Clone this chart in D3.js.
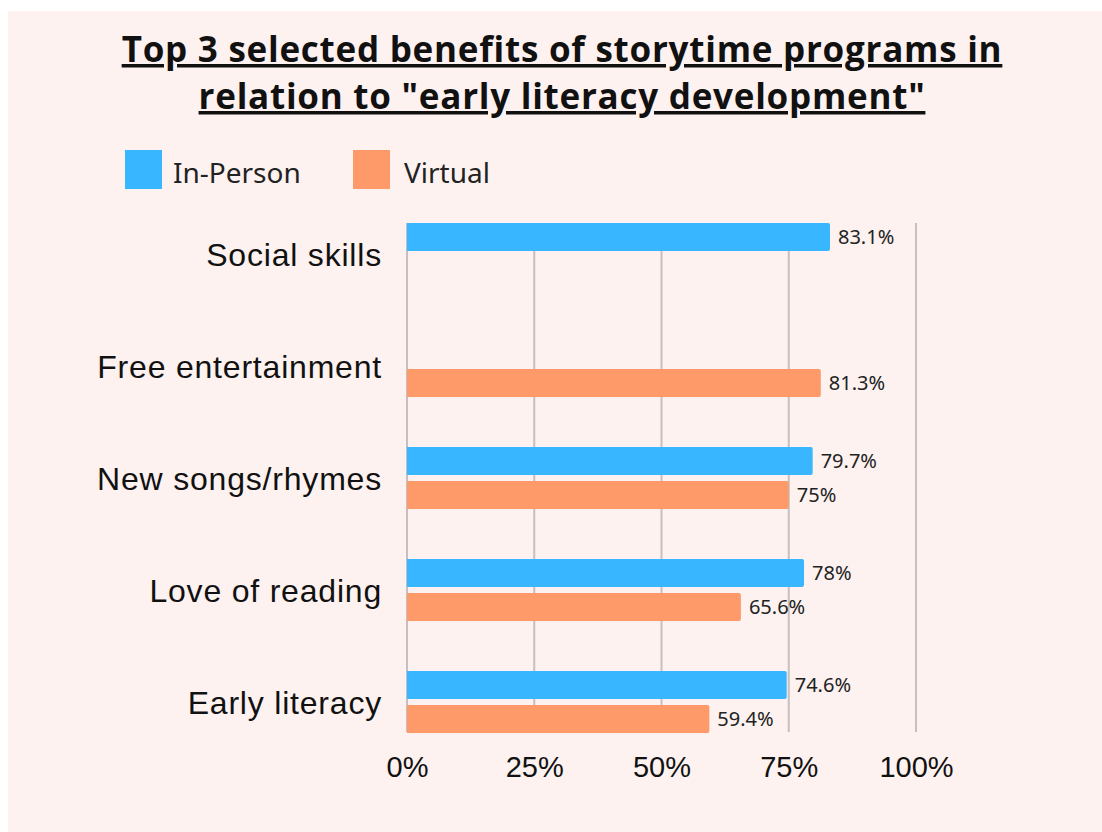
<!DOCTYPE html>
<html>
<head>
<meta charset="utf-8">
<script src="https://cdn.jsdelivr.net/npm/d3@7"></script>
<style>
  body { margin: 0; background: #ffffff; }
  svg { display: block; }
</style>
</head>
<body>
<svg></svg>
<script>
// data
const categories = ['Social skills', 'Free entertainment', 'New songs/rhymes', 'Love of reading', 'Early literacy']
const series = ['In-Person', 'Virtual']
const inPerson = [83.1, null, 79.7, 78, 74.6]
const virtual = [null, 81.3, 75, 65.6, 59.4]
const valueLabels = {
  'In-Person': ['83.1%', null, '79.7%', '78%', '74.6%'],
  'Virtual': [null, '81.3%', '75%', '65.6%', '59.4%']
}
const ticks = [0, 25, 50, 75, 100]
const titleLines = ['Top 3 selected benefits of storytime programs in', 'relation to "early literacy development"']

const WIDTH = 1102
const HEIGHT = 832
const colors = {'In-Person': '#38b6ff', 'Virtual': '#fe9a6a'}

const svg = d3.select('svg')
  .attr('width', WIDTH)
  .attr('height', HEIGHT)

svg.append('rect')
  .attr('x', 8).attr('y', 11)
  .attr('width', WIDTH - 8).attr('height', HEIGHT - 11)
  .attr('fill', '#fdf2f0')

// title
svg.append('g').selectAll('text')
  .data(titleLines)
  .enter().append('text')
    .attr('x', 562)
    .attr('y', (d, i) => 62 + i * 47)
    .attr('text-anchor', 'middle')
    .style('font-family', '"Open Sans", sans-serif')
    .style('font-weight', 700)
    .style('font-size', '35px')
    .style('letter-spacing', '0.75px')
    .style('text-decoration', 'underline')
    .attr('fill', '#111')
    .text(d => d)

// legend
const legendX = [125, 353]
const legend = svg.append('g').selectAll('.legend')
  .data(series)
  .enter().append('g')
    .attr('class', 'legend')
    .attr('transform', (d, i) => `translate(${legendX[i]},150)`)
legend.append('rect')
  .attr('width', 37).attr('height', 39)
  .attr('fill', d => colors[d])
legend.append('text')
  .attr('x', (d, i) => i ? 51 : 48).attr('y', 33)
  .style('font-family', '"Noto Sans", sans-serif')
  .style('font-size', '28px')
  .attr('fill', '#222')
  .text(d => d)

// scales
const x = d3.scaleLinear()
  .domain([0, 100])
  .range([407, 916])
const y0 = d3.scaleBand()
  .domain(categories)
  .range([199, 759])
const y1 = d3.scaleBand()
  .domain(series)
  .range([24, 86])
  .paddingInner(6 / 34)

// grid lines
svg.append('g').selectAll('line')
  .data(ticks)
  .enter().append('line')
    .attr('x1', d => x(d)).attr('x2', d => x(d))
    .attr('y1', 223).attr('y2', 732)
    .attr('stroke', '#c6bfbf')
    .attr('stroke-width', 2)

// x axis labels
const xAxis = svg.append('g')
  .attr('transform', 'translate(0,777)')
  .call(d3.axisBottom(x).tickValues(ticks).tickFormat(d => d + '%').tickSize(0).tickPadding(0))
xAxis.select('.domain').remove()
xAxis.selectAll('text')
  .attr('dy', 0)
  .style('font-family', '"Liberation Sans", Arial, sans-serif')
  .style('font-size', '29px')
  .attr('fill', '#111')

// y axis labels
const yAxis = svg.append('g')
  .attr('transform', 'translate(382,0)')
  .call(d3.axisLeft(y0).tickSize(0).tickPadding(0))
yAxis.select('.domain').remove()
yAxis.selectAll('text')
  .attr('dy', '0.35em')
  .style('font-family', '"Liberation Sans", Arial, sans-serif')
  .style('font-size', '32px')
  .style('letter-spacing', '0.8px')
  .attr('fill', '#111')

// bars
const rows = []
categories.forEach((c, i) => {
  if (inPerson[i] != null) rows.push({cat: c, s: 'In-Person', v: inPerson[i], label: valueLabels['In-Person'][i]})
  if (virtual[i] != null) rows.push({cat: c, s: 'Virtual', v: virtual[i], label: valueLabels['Virtual'][i]})
})

const bar = svg.append('g').selectAll('.bar')
  .data(rows)
  .enter().append('g')
    .attr('class', 'bar')
    .attr('transform', d => `translate(${x(0)},${y0(d.cat) + y1(d.s)})`)

bar.append('path')
  .attr('d', d => {
    const w = x(d.v) - x(0), h = y1.bandwidth(), r = 2
    return `M0,0H${w - r}Q${w},0 ${w},${r}V${h - r}Q${w},${h} ${w - r},${h}H0Z`
  })
  .attr('fill', d => colors[d.s])

bar.append('text')
  .attr('x', d => x(d.v) - x(0) + 8)
  .attr('y', y1.bandwidth() / 2)
  .attr('dy', '0.35em')
  .style('font-family', '"Noto Sans", sans-serif')
  .style('font-size', '20px')
  .attr('fill', '#222')
  .text(d => d.label)
</script>
</body>
</html>
